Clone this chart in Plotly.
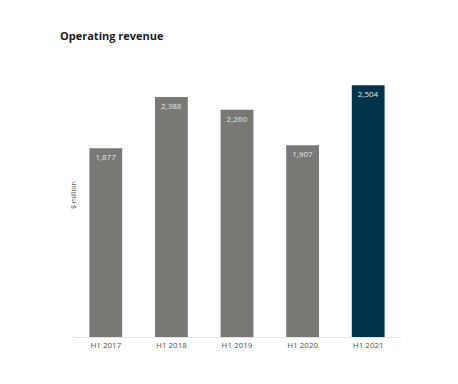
import plotly.graph_objects as go

categories = ["H1 2017", "H1 2018", "H1 2019", "H1 2020", "H1 2021"]
values = [1877, 2388, 2260, 1907, 2504]
labels = ["1,877", "2,388", "2,260", "1,907", "2,504"]
colors = ["#787874", "#787874", "#787874", "#787874", "#02334a"]

fig = go.Figure(go.Bar(
    x=categories, y=values, text=labels,
    marker=dict(color=colors, line=dict(width=0)),
    textposition="inside", insidetextanchor="end",
    textfont=dict(size=8, color="#e6e6e6", family="Open Sans"),
    cliponaxis=False,
))

fig.update_layout(
    width=458, height=384,
    margin=dict(l=73, r=57, t=60, b=47, pad=0),
    paper_bgcolor="white", plot_bgcolor="white",
    bargap=0.5,
    showlegend=False,
    title=dict(text="<b>Operating revenue</b>", x=60/458, xanchor="left",
               y=1-36/384, yanchor="middle",
               font=dict(size=11, color="#1a1a1a", family="Open Sans")),
    xaxis=dict(showgrid=False, showline=True, linecolor="#e4e4e4", linewidth=1,
               ticks="", tickfont=dict(size=8, color="#555555", family="Open Sans")),
    yaxis=dict(range=[0, 2756], showgrid=False, showticklabels=False,
               zeroline=False, showline=False),
    annotations=[dict(text="$ million", textangle=-90, x=73, y=195,
                      xref="paper", yref="paper", showarrow=False,
                      font=dict(size=7, color="#666666", family="Open Sans"))],
)
# position annotation in pixels: convert to paper coords
pw = 458 - 73 - 57
ph = 384 - 60 - 47
fig.layout.annotations[0].x = (73 - 73) / pw
fig.layout.annotations[0].y = (384 - 47 - 195) / ph
fig.layout.annotations[0].xanchor = "center"

fig.write_html("out.html")
